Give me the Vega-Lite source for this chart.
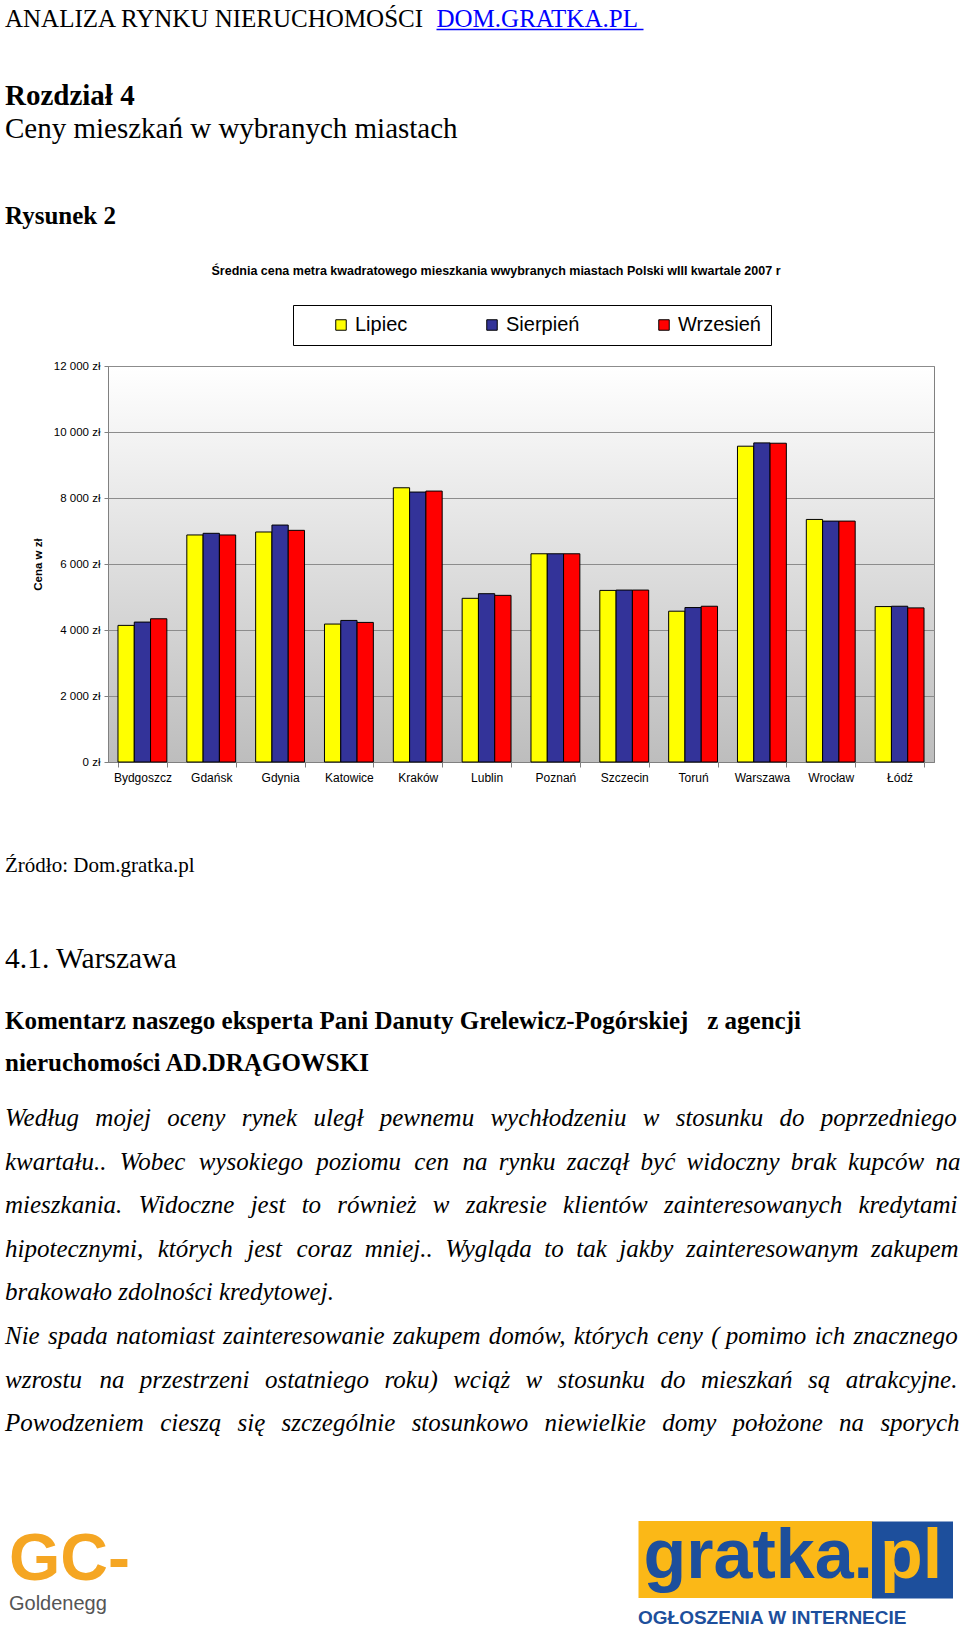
{
  "$schema": "https://vega.github.io/schema/vega-lite/v6.json",
  "background": "white",
  "padding": {"left": 5, "top": 6, "right": 0, "bottom": 0},
  "bounds": "flush",
  "spacing": 0,
  "resolve": {"scale": {"color": "independent"}, "legend": {"color": "independent"}},
  "config": {
    "view": {"stroke": null},
    "title": {"anchor": "start", "frame": "group", "color": "black"}
  },
  "datasets": {
    "prices": [
      {"city": "Bydgoszcz", "month": "Lipiec", "value": 4140},
      {"city": "Bydgoszcz", "month": "Sierpień", "value": 4240},
      {"city": "Bydgoszcz", "month": "Wrzesień", "value": 4340},
      {"city": "Gdańsk", "month": "Lipiec", "value": 6880},
      {"city": "Gdańsk", "month": "Sierpień", "value": 6930},
      {"city": "Gdańsk", "month": "Wrzesień", "value": 6880},
      {"city": "Gdynia", "month": "Lipiec", "value": 6970},
      {"city": "Gdynia", "month": "Sierpień", "value": 7180},
      {"city": "Gdynia", "month": "Wrzesień", "value": 7020},
      {"city": "Katowice", "month": "Lipiec", "value": 4180},
      {"city": "Katowice", "month": "Sierpień", "value": 4290},
      {"city": "Katowice", "month": "Wrzesień", "value": 4230},
      {"city": "Kraków", "month": "Lipiec", "value": 8310},
      {"city": "Kraków", "month": "Sierpień", "value": 8180},
      {"city": "Kraków", "month": "Wrzesień", "value": 8210},
      {"city": "Lublin", "month": "Lipiec", "value": 4960},
      {"city": "Lublin", "month": "Sierpień", "value": 5100},
      {"city": "Lublin", "month": "Wrzesień", "value": 5050},
      {"city": "Poznań", "month": "Lipiec", "value": 6310},
      {"city": "Poznań", "month": "Sierpień", "value": 6310},
      {"city": "Poznań", "month": "Wrzesień", "value": 6310},
      {"city": "Szczecin", "month": "Lipiec", "value": 5200},
      {"city": "Szczecin", "month": "Sierpień", "value": 5210},
      {"city": "Szczecin", "month": "Wrzesień", "value": 5210},
      {"city": "Toruń", "month": "Lipiec", "value": 4570},
      {"city": "Toruń", "month": "Sierpień", "value": 4680},
      {"city": "Toruń", "month": "Wrzesień", "value": 4720},
      {"city": "Warszawa", "month": "Lipiec", "value": 9570},
      {"city": "Warszawa", "month": "Sierpień", "value": 9670},
      {"city": "Warszawa", "month": "Wrzesień", "value": 9660},
      {"city": "Wrocław", "month": "Lipiec", "value": 7350},
      {"city": "Wrocław", "month": "Sierpień", "value": 7300},
      {"city": "Wrocław", "month": "Wrzesień", "value": 7300},
      {"city": "Łódź", "month": "Lipiec", "value": 4710},
      {"city": "Łódź", "month": "Sierpień", "value": 4720},
      {"city": "Łódź", "month": "Wrzesień", "value": 4670}
    ],
    "empty": []
  },
  "vconcat": [
    {
      "name": "rowHeader",
      "width": 826, "height": 53,
      "data": {"name": "empty"},
      "mark": "point",
      "encoding": {
        "x": {
          "field": "u", "type": "quantitative",
          "scale": {"domain": [0, 1], "range": [328, 535]},
          "axis": {
            "orient": "top", "values": [], "ticks": false, "labels": false, "grid": false,
            "domainColor": "#0000ff", "domainWidth": 1.5,
            "title": "DOM.GRATKA.PL", "titleColor": "#0000ff", "titleFont": "Liberation Serif",
            "titleFontSize": 25, "titleFontWeight": "normal", "titleX": 328, "titleY": -2.5,
            "titleAlign": "left", "titleBaseline": "alphabetic", "titleAngle": 0
          }
        }
      },
      "title": {
        "text": "ANALIZA RYNKU NIERUCHOMOŚCI", "font": "Liberation Serif", "fontSize": 25,
        "fontWeight": "normal", "orient": "top", "offset": -25.5, "dx": -103
      }
    },
    {
      "name": "rowChapter",
      "width": 826, "height": 33, "data": {"name": "empty"}, "mark": "point",
      "title": {"text": "Rozdział 4", "font": "Liberation Serif", "fontSize": 29, "fontWeight": "bold", "orient": "top", "offset": -29, "dx": -103}
    },
    {
      "name": "rowChapterName",
      "width": 826, "height": 89, "data": {"name": "empty"}, "mark": "point",
      "title": {"text": "Ceny mieszkań w wybranych miastach", "font": "Liberation Serif", "fontSize": 29, "fontWeight": "normal", "orient": "top", "offset": -29, "dx": -103}
    },
    {
      "name": "rowFigure",
      "width": 826, "height": 162, "data": {"name": "empty"}, "mark": "point",
      "title": {"text": "Rysunek 2", "font": "Liberation Serif", "fontSize": 25, "fontWeight": "bold", "orient": "top", "offset": -25, "dx": -103}
    },
    {
      "name": "rowChart",
      "width": 826, "height": 396,
      "data": {"name": "prices"},
      "view": {
        "stroke": "#808080",
        "fill": {"gradient": "linear", "x1": 0, "y1": 0, "x2": 0, "y2": 1,
          "stops": [{"offset": 0, "color": "#ffffff"}, {"offset": 1, "color": "#bdbdbd"}]}
      },
      "title": {
        "text": "Średnia cena metra kwadratowego mieszkania wwybranych miastach Polski wIII kwartale 2007 r",
        "font": "Liberation Sans", "fontSize": 12.5, "fontWeight": "bold", "anchor": "middle",
        "frame": "group", "orient": "top", "offset": 27, "dx": -25
      },
      "mark": {"type": "bar", "stroke": "black", "strokeWidth": 1},
      "encoding": {
        "x": {
          "field": "city", "type": "nominal", "sort": null,
          "scale": {"paddingInner": 0.29, "paddingOuter": 0.145},
          "axis": {
            "title": null, "labelAngle": 0, "labelFont": "Liberation Sans", "labelFontSize": 12,
            "labelColor": "black", "tickBand": "extent", "tickSize": 5, "tickColor": "#808080",
            "labelPadding": 5, "domainColor": "#808080", "grid": false
          }
        },
        "xOffset": {
          "field": "month", "type": "nominal", "sort": ["Lipiec", "Sierpień", "Wrzesień"],
          "scale": {"paddingInner": 0, "paddingOuter": 0}
        },
        "y": {
          "field": "value", "type": "quantitative",
          "scale": {"domain": [0, 12000]},
          "axis": {
            "values": [0, 2000, 4000, 6000, 8000, 10000, 12000],
            "labelExpr": "replace(format(datum.value, ','), ',', ' ') + ' zł'",
            "labelFont": "Liberation Sans", "labelFontSize": 11.5, "labelColor": "black",
            "tickSize": 4, "tickColor": "#808080", "labelPadding": 4, "domainColor": "#808080",
            "grid": true, "gridColor": "#8c8c8c", "gridWidth": 1,
            "title": "Cena w zł", "titleFont": "Liberation Sans", "titleFontSize": 11.5,
            "titleFontWeight": "bold", "titlePadding": 10, "titleColor": "black"
          }
        },
        "color": {
          "field": "month", "type": "nominal",
          "scale": {"domain": ["Lipiec", "Sierpień", "Wrzesień"], "range": ["#ffff00", "#333399", "#ff0000"]},
          "legend": {
            "orient": "none", "legendX": 185, "legendY": -61, "direction": "horizontal", "title": null,
            "symbolType": "square", "symbolSize": 110, "symbolStrokeColor": "black", "symbolStrokeWidth": 1,
            "symbolOffset": 28, "labelFont": "Liberation Sans", "labelFontSize": 20, "labelColor": "black",
            "labelOffset": 4, "columnPadding": 46, "padding": 10, "strokeColor": "black",
            "fillColor": "white",
            "labelExpr": "datum.label == 'Wrzesień' ? datum.label + '\u00a0\u00a0\u00a0\u00a0\u00a0' : datum.label"
          }
        }
      }
    },
    {
      "name": "rowSource",
      "width": 826, "height": 93, "data": {"name": "empty"}, "mark": "point",
      "title": {"text": "Źródło: Dom.gratka.pl", "font": "Liberation Serif", "fontSize": 21, "fontWeight": "normal", "orient": "bottom", "offset": 0, "dx": -103}
    },
    {
      "name": "rowSection",
      "width": 826, "height": 90, "data": {"name": "empty"}, "mark": "point",
      "title": {"text": "4.1. Warszawa", "font": "Liberation Serif", "fontSize": 29.5, "fontWeight": "normal", "orient": "bottom", "offset": 0, "dx": -103}
    },
    {
      "name": "rowComment",
      "width": 826, "height": 64, "data": {"name": "empty"}, "mark": "point",
      "title": {
        "text": ["Komentarz naszego eksperta Pani Danuty Grelewicz-Pogórskiej \u00a0\u00a0z agencji", "nieruchomości AD.DRĄGOWSKI"],
        "font": "Liberation Serif", "fontSize": 25, "fontWeight": "bold", "lineHeight": 42,
        "orient": "bottom", "offset": 0, "dx": -103
      }
    },
    {
      "name": "rowParagraph",
      "width": 826, "height": 97, "data": {"name": "empty"}, "mark": "point",
      "title": {
        "text": [
          "Według \u2009\u2009mojej \u2009\u2009oceny \u2009\u2009rynek \u2009\u2009uległ \u2009\u2009pewnemu \u2009\u2009wychłodzeniu \u2009\u2009w \u2009\u2009stosunku \u2009\u2009do \u2009\u2009poprzedniego",
          "kwartału.. \u2009\u200aWobec \u2009\u200awysokiego \u2009\u200apoziomu \u2009\u200acen \u2009\u200ana \u2009rynku \u2009zaczął \u2009być \u2009widoczny \u2009brak \u2009kupców \u2009na",
          "mieszkania. \u2009\u2009Widoczne \u2009\u2009jest \u2009\u2009to \u2009\u2009również \u2009\u2009w \u2009\u2009zakresie \u2009\u2009klientów \u2009\u2009zainteresowanych \u2009\u2009kredytami",
          "hipotecznymi, \u2005\u200aktórych \u2005\u200ajest \u2005\u200acoraz \u2005mniej.. \u2005Wygląda \u2005to \u2005tak \u2005jakby \u2005zainteresowanym \u2005zakupem",
          "brakowało zdolności kredytowej.",
          "Nie \u200aspada \u200anatomiast \u200azainteresowanie \u200azakupem \u200adomów, \u200aktórych \u200aceny \u200a( pomimo \u200aich \u200aznacznego",
          "wzrostu \u2009\u2006\u200ana \u2009\u2006przestrzeni \u2009\u2006ostatniego \u2009\u2006roku) \u2009\u2006wciąż \u2009\u2006w \u2009\u2006stosunku \u2009\u2006do \u2009\u2006mieszkań \u2009\u2006są \u2009\u2006atrakcyjne.",
          "Powodzeniem \u2009\u2009cieszą \u2009\u2009się \u2009\u2009szczególnie \u2009\u2009stosunkowo \u2009\u2009niewielkie \u2009\u2009domy \u2009\u2009położone \u2009\u2009na \u2009\u2009sporych"
        ],
        "font": "Liberation Serif", "fontSize": 25, "fontWeight": "normal", "fontStyle": "italic",
        "lineHeight": 43.6, "orient": "bottom", "offset": 0, "dx": -103
      }
    },
    {
      "name": "rowGoldenegg",
      "width": 826, "height": 422, "data": {"name": "empty"}, "mark": "point",
      "title": {
        "text": "GC-", "font": "Liberation Sans", "fontSize": 66, "fontWeight": "bold", "color": "#f5a623",
        "subtitle": "Goldenegg", "subtitleFont": "Liberation Sans", "subtitleFontSize": 20, "subtitleColor": "#555555",
        "subtitlePadding": 0, "orient": "bottom", "offset": 0, "dx": -99
      }
    },
    {
      "name": "rowGratka",
      "width": 826, "height": 31,
      "data": {"name": "empty"}, "mark": "point",
      "title": {
        "text": "OGŁOSZENIA W INTERNECIE", "font": "Liberation Sans", "fontSize": 19, "fontWeight": "bold",
        "color": "#1d4f9c", "orient": "bottom", "offset": 3.5, "dx": 530
      },
      "encoding": {
        "x": {
          "field": "u", "type": "quantitative",
          "scale": {"domain": [0, 1], "range": [530, 764]},
          "axis": {
            "orient": "bottom", "values": [], "ticks": false, "labels": false, "grid": false,
            "domainColor": "#fbb817", "domainWidth": 77, "domainCap": "butt",
            "title": "gratka.", "titleColor": "#1d4f9c", "titleFont": "Liberation Sans",
            "titleFontSize": 70, "titleFontWeight": "bold", "titleX": 535, "titleY": 18.5,
            "titleAlign": "left", "titleBaseline": "alphabetic", "titleAngle": 0
          }
        },
        "y": {
          "field": "w", "type": "quantitative",
          "scale": {"domain": [0, 1], "range": [70, -7]},
          "axis": {
            "orient": "right", "offset": -22, "values": [], "ticks": false, "labels": false, "grid": false,
            "domainColor": "#1d4f9c", "domainWidth": 81, "domainCap": "butt",
            "title": "pl", "titleColor": "#fbb817", "titleFont": "Liberation Sans",
            "titleFontSize": 70, "titleFontWeight": "bold", "titleX": -32.5, "titleY": 49.5,
            "titleAlign": "left", "titleBaseline": "alphabetic", "titleAngle": 0
          }
        }
      }
    }
  ]
}
